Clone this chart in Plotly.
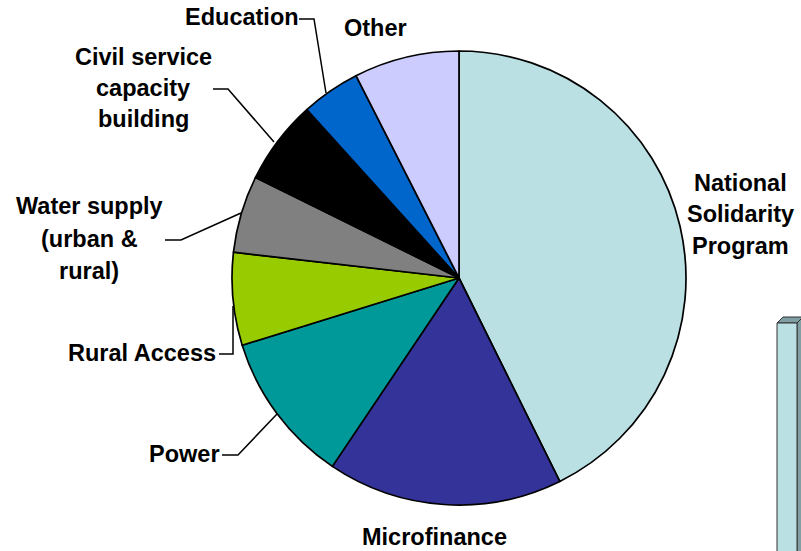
import plotly.graph_objects as go

W, H = 801, 551

categories = ["National Solidarity Program", "Microfinance", "Power", "Rural Access",
              "Water supply (urban & rural)", "Civil service capacity building",
              "Education", "Other"]
values = [42.7, 16.75, 10.8, 6.6, 5.5, 6.0, 4.2, 7.5]
colors = ["#BBE0E3", "#333399", "#009999", "#99CC00", "#808080", "#000000", "#0066CC", "#CCCCFF"]

# label lines (text, x-center px, y-center px)
label_lines = [
    ("National", 740, 183), ("Solidarity", 740, 214), ("Program", 740, 246),
    ("Microfinance", 434, 537),
    ("Power", 184, 454),
    ("Rural Access", 142, 353),
    ("Water supply", 89, 206), ("(urban &", 89, 239), ("rural)", 89, 271),
    ("Civil service", 143, 57), ("capacity", 143, 88), ("building", 143, 119),
    ("Education", 242, 17),
    ("Other", 375, 28),
]

leaders = [
    [(222, 455), (238, 455), (277, 414)],
    [(219, 354), (233, 354), (233, 306)],
    [(165, 240), (181, 240), (241, 213)],
    [(213, 89), (228, 89), (274, 142)],
    [(299, 19), (314, 19), (326, 93)],
]

cx, cy, r = 459, 278, 227

def px(x):
    return x / W

def py(y):
    return 1 - y / H

fig = go.Figure(go.Pie(
    labels=categories, values=values, sort=False, direction="clockwise", rotation=0,
    marker=dict(colors=colors, line=dict(color="black", width=1.7)),
    textinfo="none", hoverinfo="label+percent", showlegend=False,
    domain=dict(x=[px(cx - r), px(cx + r)], y=[py(cy + r), py(cy - r)]),
))

annotations = []
for t, x, y in label_lines:
    annotations.append(dict(text=t, x=px(x), y=py(y), xref="paper", yref="paper",
                            xanchor="center", yanchor="middle", showarrow=False,
                            font=dict(family="Liberation Sans, Arial", size=23.5,
                                      color="black", weight="bold")))

shapes = []
for pts in leaders:
    path = "M " + " L ".join(f"{px(x)},{py(y)}" for x, y in pts)
    shapes.append(dict(type="path", path=path, xref="paper", yref="paper",
                       line=dict(color="black", width=1.5)))

# partial 3D bar from neighbouring chart at the right edge
shapes.append(dict(type="path", xref="paper", yref="paper",
                   path=f"M {px(777)},{py(323)} L {px(783)},{py(317)} L {px(803)},{py(317)} L {px(797)},{py(323)} Z",
                   fillcolor="#7F9FA2", line=dict(color="#333333", width=1)))
shapes.append(dict(type="path", xref="paper", yref="paper",
                   path=f"M {px(797)},{py(323)} L {px(803)},{py(317)} L {px(803)},{py(553)} L {px(797)},{py(553)} Z",
                   fillcolor="#7F9FA2", line=dict(color="#333333", width=1)))
shapes.append(dict(type="rect", xref="paper", yref="paper",
                   x0=px(777), x1=px(797), y0=py(553), y1=py(323),
                   fillcolor="#BBE0E3", line=dict(color="#333333", width=1)))

fig.update_layout(width=W, height=H, margin=dict(l=0, r=0, t=0, b=0),
                  paper_bgcolor="white", plot_bgcolor="white",
                  annotations=annotations, shapes=shapes)

fig.write_html("out.html")
